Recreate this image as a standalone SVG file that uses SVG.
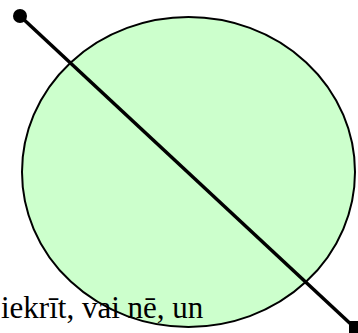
<svg xmlns="http://www.w3.org/2000/svg" width="358" height="333" viewBox="0 0 358 333">
<style>
.lbl{font-family:"Liberation Serif","Times New Roman",serif;font-size:31px;fill:#000}
.conn{stroke:#000;stroke-width:3.5;fill:none}
</style>
<rect width="358" height="333" fill="#fff"/>
<g id="circle">
<ellipse cx="188.5" cy="172" rx="166.5" ry="155" fill="#ccffcc" stroke="#000" stroke-width="2"/>
</g>
<g id="label">
<text class="lbl" x="1" y="318">iekrīt, vai nē, un</text>
</g>
<g id="connectors">
<line class="conn" x1="20" y1="16" x2="355" y2="328"/>
<circle cx="20" cy="16" r="7" fill="#000"/>
<rect x="349" y="321" width="14" height="14" fill="#000"/>
</g>
</svg>
